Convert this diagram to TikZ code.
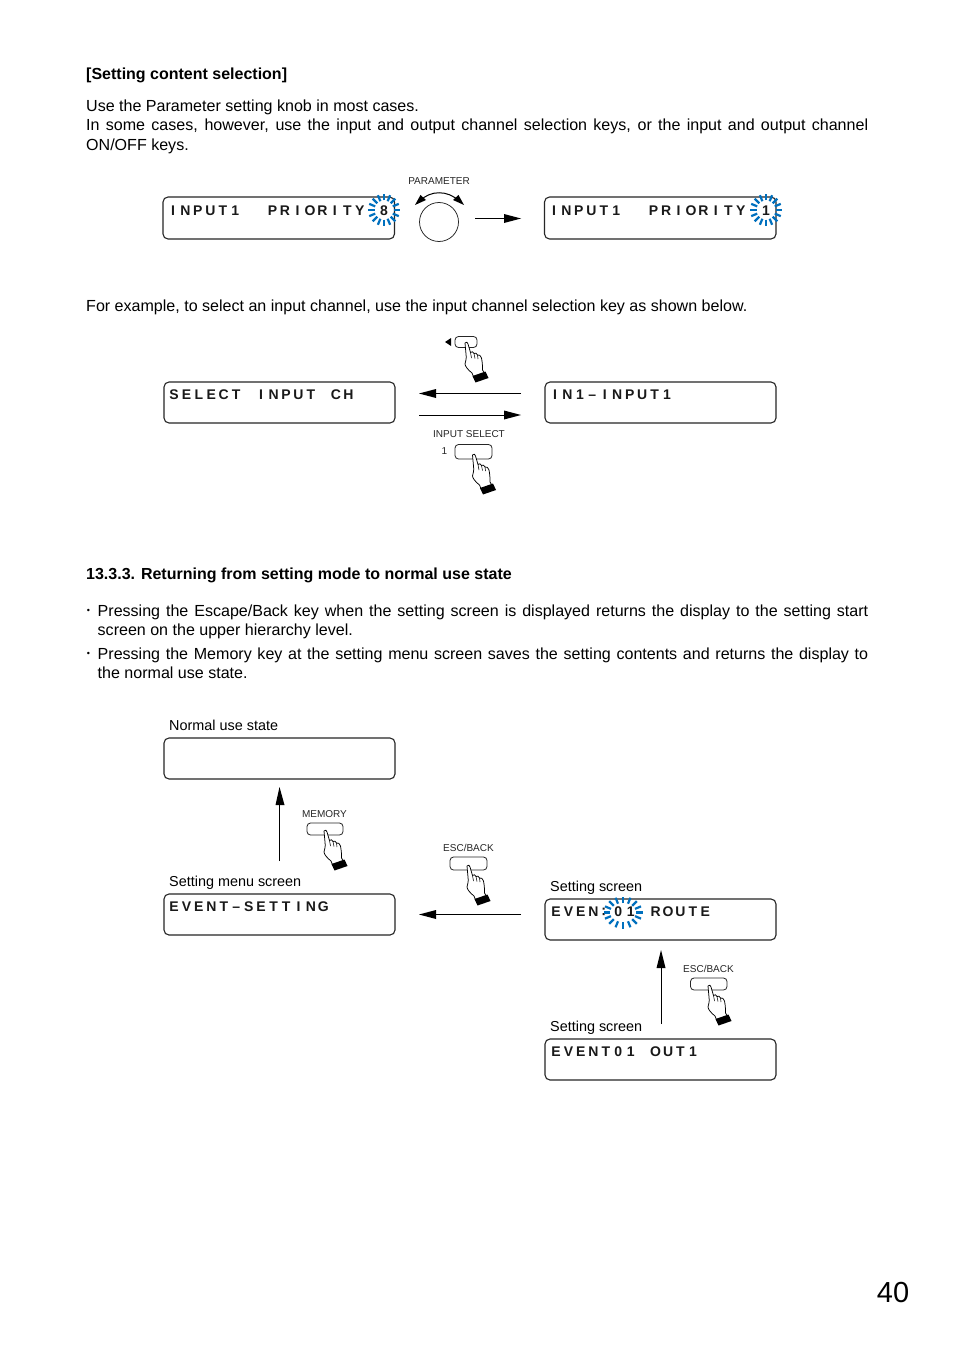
\documentclass[tikz,border=0pt]{standalone}
\usepackage{fontspec}
\setmainfont{Liberation Sans}
\usetikzlibrary{calc}
\newcommand{\jl}[3]{\node[anchor=base west,inner sep=0,font=\fontsize{16.05}{18}\selectfont] at (#1,#2) {\hbox to \dimexpr868pt-#1pt\relax{#3}};}
\newcommand{\pl}[3]{\node[anchor=base west,inner sep=0,font=\fontsize{16.05}{18}\selectfont] at (#1,#2) {#3};}
\newcommand{\hd}[3]{\node[anchor=base west,inner sep=0,font=\fontsize{16}{18}\selectfont\bfseries] at (#1,#2) {#3};}
\newcommand{\lb}[3]{\node[anchor=base west,inner sep=0,font=\fontsize{14.4}{18}\selectfont] at (#1,#2) {#3};}
\newcommand{\sm}[3]{\node[anchor=base,inner sep=0,font=\fontsize{10}{12}\selectfont,text=black!85] at (#1,#2) {#3};}
\newcommand{\bul}[2]{\node[inner sep=0,font=\fontsize{9}{10}\selectfont] at (#1,#2) {•};}
% monospaced display row: first-centre x, baseline y, comma list (empty = blank cell)
\newcommand{\lcdr}[3]{\foreach \c [count=\i from 0] in {#3}{\node[lcdtext] at ({#1+12.45*\i},#2) {\c};}}
\newcommand{\bur}[5]{\foreach \a in {0,22.5,...,337.5}{\draw[burst] ({#1+#3*cos(\a)},{#2+#4*sin(\a)}) -- ({#1+(#3+#5)*cos(\a)},{#2+(#4+#5)*sin(\a)});}}
\definecolor{burstblue}{RGB}{0,112,190}
\tikzset{
 lcdbox/.style={draw=black!85,line width=1.1pt,rounded corners=5pt},
 lcdtext/.style={anchor=base,inner sep=0,font=\fontsize{14}{16}\selectfont\bfseries,text=black!90},
 burst/.style={draw=burstblue,line width=2.2pt},
 keycap/.style={draw=black!85,line width=0.8pt,rounded corners=3.5pt,fill=white},
 pics/hand/.style={code={
  \draw[line width=0.75pt,fill=white,line join=round]
   (-1,0) .. controls (0,-1.5) and (2,-1) .. (2,1) -- (4.5,9.5)
   .. controls (5.5,8.2) and (7.5,8.5) .. (8,10.5)
   .. controls (9,9.5) and (11,10) .. (11.5,12)
   .. controls (13,11.5) and (15,12.5) .. (15.5,15)
   .. controls (16.5,20) and (16.5,24) .. (16.5,27)
   -- (19,31) -- (8,35) -- (6,30)
   .. controls (2,27) and (-1,23) .. (-1,21)
   .. controls (0,18) and (0.5,15) .. (0,11) -- (-1,0) -- cycle;
  \fill (6.5,33) -- (19.5,28.5) -- (22.5,35) -- (9.5,39.5) -- cycle;
  \draw[line width=0.55pt] (4.5,9.5) -- (5.5,15) (8,10.5) -- (9,15.5) (11.5,12) -- (12,16);
 }}
}
\begin{document}
\begin{tikzpicture}[x=1pt,y=-1pt]
\useasboundingbox (0,0) rectangle (954,1351);
\fill[white] (0,0) rectangle (954,1351);
\hd{86}{80}{[Setting content selection]}
\pl{86}{112}{Use the Parameter setting knob in most cases.}
\jl{86}{131}{In some cases, however, use the input and output channel selection keys, or the input and output channel}
\pl{86}{151}{ON/OFF keys.}
\pl{86}{311}{For example, to select an input channel, use the input channel selection key as shown below.}
\hd{86}{579}{13.3.3. Returning from setting mode to normal use state}
\bul{88.5}{611}
\jl{97.5}{616}{Pressing the Escape/Back key when the setting screen is displayed returns the display to the setting start}
\pl{97.5}{635}{screen on the upper hierarchy level.}
\bul{88.5}{654}
\jl{97.5}{659}{Pressing the Memory key at the setting menu screen saves the setting contents and returns the display to}
\pl{97.5}{678}{the normal use state.}
% row 1
\draw[lcdbox] (163,197) rectangle (394.5,239);
\draw[lcdbox] (544.5,197) rectangle (776,239);
\lcdr{173}{215}{I,N,P,U,T,1,,,P,R,I,O,R,I,T,Y}
\bur{384}{210}{9.5}{9.5}{6.5}
\node[lcdtext] at (384,215) {8};
\lcdr{554}{215}{I,N,P,U,T,1,,,P,R,I,O,R,I,T,Y}
\bur{766}{210}{9.5}{9.5}{6.5}
\node[lcdtext] at (766,215) {1};
\sm{439}{185}{PARAMETER}
\draw[line width=0.75pt,black!85] (439,222) circle (19.5);
\draw[line width=1pt] (420,201) .. controls (430,190) and (448,190) .. (459,201);
\fill (415,205) -- (426,200) -- (420.5,195) -- cycle;
\fill (464,205) -- (453,200) -- (458.5,195) -- cycle;
\draw[line width=1.3pt] (475,218.5) -- (505,218.5);
\fill (521,218.5) -- (504,214) -- (504,223) -- cycle;
% row 2
\draw[lcdbox] (164,382) rectangle (395,423);
\draw[lcdbox] (545,382) rectangle (776,423);
\lcdr{174}{399}{S,E,L,E,C,T,,I,N,P,U,T,,C,H}
\lcdr{555}{399}{I,N,1,–,I,N,P,U,T,1}
\draw[line width=0.9pt] (521,393.5) -- (435,393.5);
\fill (419,393.5) -- (436,389) -- (436,398) -- cycle;
\draw[line width=0.9pt] (419,415) -- (505,415);
\fill (521,415) -- (504,410.5) -- (504,419.5) -- cycle;
\draw[keycap] (455,336.5) rectangle (477,347.5);
\pic at (466,343) {hand};
\fill (445,342) -- (451,338) -- (451,346) -- cycle;
\sm{469}{437}{INPUT SELECT}
\node[anchor=base,inner sep=0,font=\fontsize{10}{12}\selectfont,text=black!85] at (444.5,454) {1};
\draw[keycap] (455,444.5) rectangle (492,459);
\pic at (473.5,455) {hand};
% lower
\lb{169}{730}{Normal use state}
\draw[lcdbox] (164,738) rectangle (395,779);
\lb{169}{886}{Setting menu screen}
\draw[lcdbox] (164,894) rectangle (395,935);
\lcdr{174}{911}{E,V,E,N,T,–,S,E,T,T,I,N,G}
\draw[line width=0.9pt] (279.5,861) -- (279.5,803);
\fill (279.5,787) -- (275.5,805) -- (284.5,805) -- cycle;
\sm{324.5}{817}{MEMORY}
\draw[keycap] (307,823) rectangle (343,835);
\pic at (325,831) {hand};
\sm{468.5}{851}{ESC/BACK}
\draw[keycap] (450,857) rectangle (487,870);
\pic at (468,866) {hand};
\draw[line width=0.9pt] (521,914.5) -- (435,914.5);
\fill (419,914.5) -- (436,910) -- (436,919) -- cycle;
\lb{550}{891}{Setting screen}
\draw[lcdbox] (545,899) rectangle (776,940);
\lcdr{556}{916}{E,V,E,N,,0,1,,R,O,U,T,E}
\fill[black!90] (602.5,907.5) rectangle (604.5,909.5) (602.5,913) rectangle (604.5,915);
\bur{623}{912.5}{13}{9.5}{6.5}
\draw[line width=0.9pt] (661,1024) -- (661,966);
\fill (661,950) -- (656.5,968) -- (665.5,968) -- cycle;
\sm{708.5}{972}{ESC/BACK}
\draw[keycap] (690.5,978) rectangle (727,990);
\pic at (709,986) {hand};
\lb{550}{1031}{Setting screen}
\draw[lcdbox] (545,1039) rectangle (776,1080);
\lcdr{556}{1056}{E,V,E,N,T,0,1,,O,U,T,1}
\node[anchor=base,inner sep=0,font=\fontsize{29}{32}\selectfont] at (893,1302) {40};
\end{tikzpicture}
\end{document}
